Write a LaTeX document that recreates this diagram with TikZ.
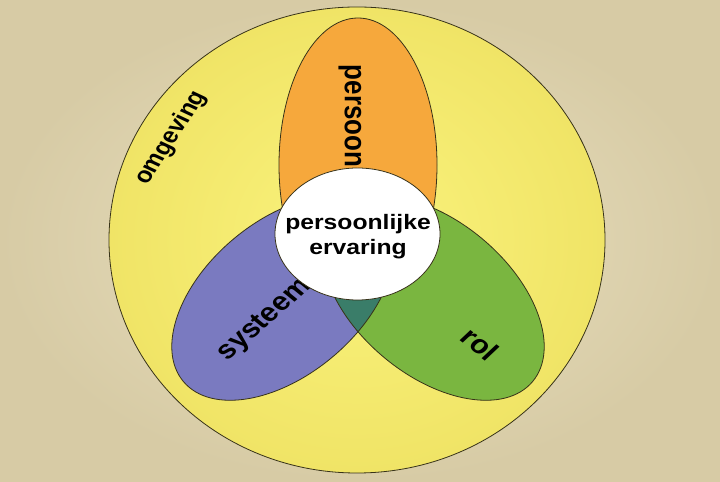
\documentclass[tikz,border=0pt]{standalone}
\usepackage{fontspec}
\setmainfont{Liberation Sans}
\usetikzlibrary{positioning}
\definecolor{bgin}{RGB}{234,225,193}
\definecolor{bgout}{RGB}{215,203,165}
\definecolor{omgin}{RGB}{250,243,125}
\definecolor{omgout}{RGB}{240,228,102}
\definecolor{persoonkleur}{RGB}{246,168,60}
\definecolor{systeemkleur}{RGB}{122,122,192}
\definecolor{rolkleur}{RGB}{122,182,64}
\definecolor{overlapkleur}{RGB}{58,125,105}
\definecolor{randkleur}{RGB}{55,50,25}

\begin{document}
\begin{tikzpicture}[x=1bp,y=1bp,
    omtrek/.style={draw=randkleur, line width=0.8bp},
    tekst/.style={font=\fontsize{26}{30}\selectfont\bfseries, text=black, inner sep=0pt, xscale=1.18},
    kern/.style={font=\fontsize{21}{25}\selectfont\bfseries, text=black, align=center, inner sep=0pt, xscale=1.18}]
  \useasboundingbox (0,0) rectangle (720,482);
  \shade[inner color=bgin, outer color=bgout] (0,0) rectangle (720,482);

  % omgeving
  \shade[inner color=omgin, outer color=omgout] (357,242) ellipse [x radius=248bp, y radius=233bp];
  \draw[omtrek] (357,242) ellipse [x radius=248bp, y radius=233bp];

  % persoon
  \filldraw[omtrek, fill=persoonkleur] (358,317) ellipse [x radius=79bp, y radius=147bp];

  % systeem en rol
  \fill[systeemkleur, rotate around={40:(283,184)}] (283,184) ellipse [x radius=130bp, y radius=77bp];
  \fill[rolkleur, rotate around={-40:(433,184)}] (433,184) ellipse [x radius=130bp, y radius=77bp];
  \begin{scope}
    \clip[rotate around={40:(283,184)}] (283,184) ellipse [x radius=130bp, y radius=77bp];
    \fill[overlapkleur, rotate around={-40:(433,184)}] (433,184) ellipse [x radius=130bp, y radius=77bp];
  \end{scope}
  \draw[omtrek, rotate around={40:(283,184)}] (283,184) ellipse [x radius=130bp, y radius=77bp];
  \draw[omtrek, rotate around={-40:(433,184)}] (433,184) ellipse [x radius=130bp, y radius=77bp];

  \node[tekst, font=\fontsize{22}{26}\selectfont\bfseries, rotate=61] (omgeving) at (171,344) {omgeving};
  \node[tekst, rotate=-90] (persoon) at (350,366) {persoon};
  \node[tekst, rotate=46] (systeem) at (265,162) {systeem};
  \node[tekst, rotate=-42] (rol) at (480,138) {rol};

  % persoonlijke ervaring
  \filldraw[omtrek, fill=white] (357.5,248) ellipse [x radius=82.5bp, y radius=66bp];
  \node[kern] (ervaring) at (358,245) {persoonlijke\\ervaring};
\end{tikzpicture}
\end{document}
